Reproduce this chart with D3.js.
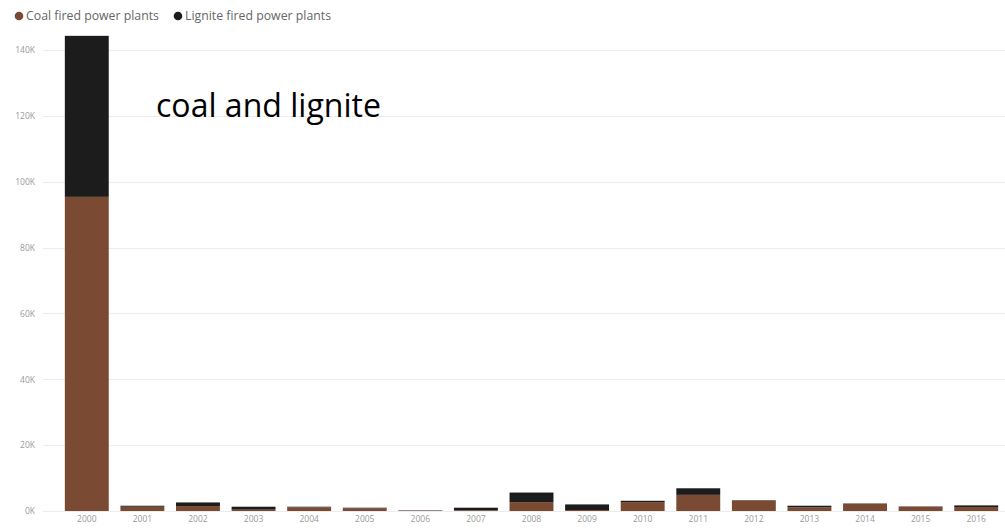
<!DOCTYPE html>
<html>
<head>
<meta charset="utf-8">
<script src="https://cdn.jsdelivr.net/npm/d3@7/dist/d3.min.js"></script>
<style>
  html, body { margin: 0; padding: 0; background: #fff; }
  svg { display: block; }
</style>
</head>
<body>
<svg id="chart" width="1005" height="530"></svg>
<script>
// Yearly capacity (MW) by plant type
const years = ["2000","2001","2002","2003","2004","2005","2006","2007","2008","2009","2010","2011","2012","2013","2014","2015","2016"];
const coal    = [95400, 1300, 1500, 400, 1100, 800, 100, 200, 2700, 300, 2700, 4900, 3200, 1100, 2200, 1300, 1200];
const lignite = [48900,  300, 1100, 900,  200, 200, 100, 800, 2900, 1700,  400, 2000,  100,  500,  100,  100,  500];
const seriesNames = ["Coal fired power plants", "Lignite fired power plants"];
const seriesColors = ["#7b4a32", "#1c1c1c"];
const yTicks = [0, 20000, 40000, 60000, 80000, 100000, 120000, 140000];
const annotation = "coal and lignite";

const svg = d3.select("#chart");
const W = 1005, H = 530;
const margin = { left: 59, right: 1, top: 50, bottom: 19 };

const rows = years.map((y, i) => ({ year: y, coal: coal[i], lignite: lignite[i] }));
const stacked = d3.stack().keys(["coal", "lignite"])(rows);

const x = d3.scaleBand().domain(years).range([margin.left, W - margin.right]).paddingInner(0.21).paddingOuter(0.105);
const y = d3.scaleLinear().domain([0, 140000]).range([H - margin.bottom, margin.top]);

// gridlines
svg.append("g")
  .selectAll("line")
  .data(yTicks)
  .join("line")
  .attr("x1", 43).attr("x2", W)
  .attr("y1", d => Math.round(y(d)) + 0.5).attr("y2", d => Math.round(y(d)) + 0.5)
  .attr("stroke", "#ececec").attr("stroke-width", 1);

// y axis labels
const yAxis = d3.axisLeft(y).tickValues(yTicks).tickSize(0).tickPadding(0)
  .tickFormat(d => (d / 1000) + "K");
svg.append("g")
  .attr("transform", `translate(35,0)`)
  .call(yAxis)
  .call(g => g.select(".domain").remove())
  .call(g => g.selectAll("text")
    .attr("fill", "#999")
    .style("font-family", "'Open Sans', 'DejaVu Sans', sans-serif")
    .style("font-size", "8.5px"));

// x axis labels
const xAxis = d3.axisBottom(x).tickSize(0).tickPadding(0);
svg.append("g")
  .attr("transform", `translate(0,${H - margin.bottom + 5})`)
  .call(xAxis)
  .call(g => g.select(".domain").remove())
  .call(g => g.selectAll("text")
    .attr("fill", "#999")
    .style("font-family", "'Open Sans', 'DejaVu Sans', sans-serif")
    .style("font-size", "8.5px"));

// stacked bars
svg.append("g")
  .selectAll("g")
  .data(stacked)
  .join("g")
  .attr("fill", (d, i) => seriesColors[i])
  .selectAll("rect")
  .data(d => d)
  .join("rect")
  .attr("x", d => x(d.data.year))
  .attr("width", x.bandwidth())
  .attr("y", d => y(d[1]))
  .attr("height", d => Math.max(0, y(d[0]) - y(d[1])));

// legend
const legend = svg.append("g").attr("transform", "translate(0,16)");
let lx = 15;
seriesNames.forEach((name, i) => {
  legend.append("circle").attr("cx", lx + 4).attr("cy", 0).attr("r", 4.3).attr("fill", seriesColors[i]);
  const t = legend.append("text")
    .attr("x", lx + 11).attr("y", 0).attr("dy", "0.35em")
    .attr("fill", "#666")
    .style("font-family", "'Open Sans', 'DejaVu Sans', sans-serif")
    .style("font-size", "12.3px")
    .text(name);
  lx += 11 + t.node().getComputedTextLength() + 15;
});

// annotation
const ann = svg.append("text")
  .attr("x", 156).attr("y", 117)
  .attr("fill", "#000")
  .style("font-family", "'Open Sans', 'Noto Sans', sans-serif")
  .style("font-size", "28px")
  .text(annotation);
const w = ann.node().getComputedTextLength();
ann.style("font-size", (28 * 225 / w).toFixed(2) + "px");
</script>
</body>
</html>
